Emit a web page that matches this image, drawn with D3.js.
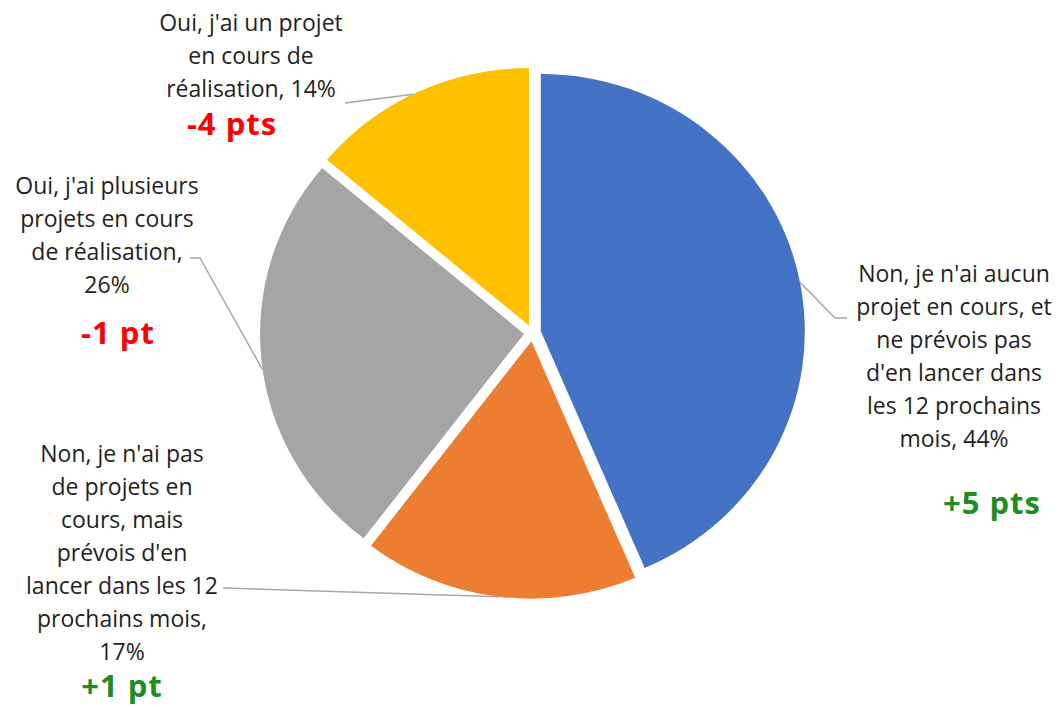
<!DOCTYPE html>
<html>
<head>
<meta charset="utf-8">
<script src="https://cdn.jsdelivr.net/npm/d3@7"></script>
<style>
  body { margin: 0; background: #fff; }
  svg { display: block; }
  .lbl { font-family: "Open Sans", sans-serif; font-size: 23px; fill: #1f1f1f; }
  .chg { font-family: "Open Sans", sans-serif; font-size: 31px; font-weight: bold; letter-spacing: 1px; }
</style>
</head>
<body>
<svg id="chart" width="1060" height="707"></svg>
<script>
// data, in clockwise order from 12 o'clock
var categories = [
  ["Non, je n'ai aucun", "projet en cours, et", "ne prévois pas", "d'en lancer dans", "les 12 prochains", "mois,"],
  ["Non, je n'ai pas", "de projets en", "cours, mais", "prévois d'en", "lancer dans les 12", "prochains mois,"],
  ["Oui, j'ai plusieurs", "projets en cours", "de réalisation,"],
  ["Oui, j'ai un projet", "en cours de", "réalisation,"]
];
var values = [44, 17, 26, 14];
var pctOwnLine = [false, true, true, false];
var changes = ["+5 pts", "+1 pt", "-1 pt", "-4 pts"];
var colors = ["#4472C4", "#ED7D31", "#A5A5A5", "#FFC000"];

// layout of labels (centre x, first line y, leader elbow points, change label pos, anchor angle on slice)
var layout = [
  { x: 954, y: 273, elbow: [[835, 318], [847, 318]], cx: 992, cy: 502, ang: 79 },
  { x: 122, y: 453, elbow: [[223, 588]], cx: 122, cy: 685, ang: 187 },
  { x: 107, y: 185, elbow: [[200, 258], [190, 258]], cx: 118, cy: 332, ang: 262 },
  { x: 251, y: 22, elbow: [[345, 103]], cx: 232, cy: 123, ang: 334 }
];

var cx = 532.5, cy = 333, r = 264, explode = 8.5, sy = 0.975, lineH = 33;
var svg = d3.select("#chart");

var pie = d3.pie().sort(null).value(d => d);
var arcs = pie(values);
var arc = d3.arc().innerRadius(0).outerRadius(r);

var pieG = svg.append("g").attr("transform", `translate(${cx},${cy}) scale(1,${sy})`);

function offset(a) {
  var m = (a.startAngle + a.endAngle) / 2;
  return [explode * Math.sin(m), -explode * Math.cos(m)];
}

pieG.selectAll("path")
  .data(arcs)
  .enter()
  .append("path")
  .attr("d", arc)
  .attr("fill", (d, i) => colors[i])
  .attr("transform", d => { var o = offset(d); return `translate(${o[0]},${o[1]})`; });

// leader lines
arcs.forEach(function(a, i) {
  var o = offset(a);
  var t = layout[i].ang * Math.PI / 180;
  var px = cx + o[0] + r * Math.sin(t);
  var py = cy + (o[1] - r * Math.cos(t)) * sy;
  var pts = [[px, py]].concat(layout[i].elbow);
  svg.append("path")
    .attr("d", d3.line()(pts))
    .attr("fill", "none")
    .attr("stroke", "#a6a6a6")
    .attr("stroke-width", 1.5);
});

// labels
categories.forEach(function(lines, i) {
  var txt = lines.slice();
  var pct = values[i] + "%";
  if (pctOwnLine[i]) txt.push(pct);
  else txt[txt.length - 1] = txt[txt.length - 1] + " " + pct;
  var L = layout[i];
  var t = svg.append("text").attr("class", "lbl").attr("text-anchor", "middle");
  txt.forEach(function(s, j) {
    t.append("tspan")
      .attr("x", L.x)
      .attr("y", L.y + j * lineH)
      .attr("dominant-baseline", "central")
      .text(s);
  });
  svg.append("text")
    .attr("class", "chg")
    .attr("text-anchor", "middle")
    .attr("dominant-baseline", "central")
    .attr("x", L.cx)
    .attr("y", L.cy)
    .attr("fill", changes[i][0] === "+" ? "#1e8c1e" : "#ff0000")
    .text(changes[i]);
});
</script>
</body>
</html>
